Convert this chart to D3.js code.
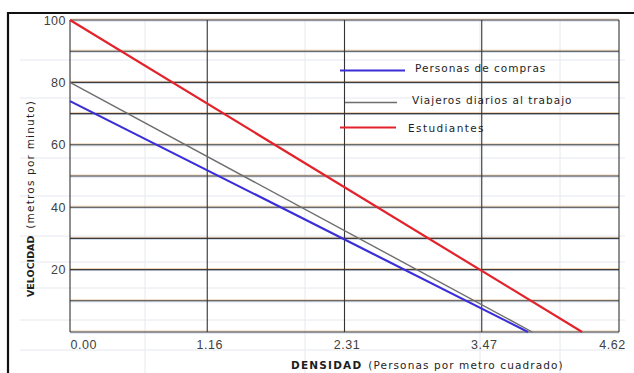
<!DOCTYPE html>
<html lang="es">
<head>
<meta charset="UTF-8">
<title>Velocidad vs densidad</title>
<script src="https://d3js.org/d3.v7.min.js"></script>
<style>
html, body {
  margin: 0;
  padding: 0;
  background-color: white;
}
svg {
  display: block;
  font-family: 'DejaVu Sans', sans-serif;
}
.tick-label {
  font-size: 12.5px;
  fill: #404040;
  letter-spacing: 0.5px;
}
.legend-text {
  font-size: 10.5px;
  fill: #1e1e1e;
}
.axis-title {
  font-size: 10.5px;
  fill: #1e1e1e;
}
</style>
</head>
<body>
<div id="chart"></div>
<script>

// --------------------------------------
// Data
// --------------------------------------

const seriesNames = ["Personas de compras", "Viajeros diarios al trabajo", "Estudiantes"];
const seriesColors = ["#3a2fd6", "#6e6e6e", "#e3232b"];
// each line is straight: [densidad, velocidad] at both ends
const compras = [[0, 74], [3.855, 0]];
const viajeros = [[0, 80], [3.89, 0]];
const estudiantes = [[0, 100], [4.31, 0]];
const seriesData = [compras, viajeros, estudiantes];

const xTicks = [0, 1.155, 2.31, 3.465, 4.62];
const xTickLabels = ["0.00", "1.16", "2.31", "3.47", "4.62"];
const yGrid = [0, 10, 20, 30, 40, 50, 60, 70, 80, 90, 100];
const yTicks = [20, 40, 60, 80, 100];

// --------------------------------------
// Size and margin
// --------------------------------------

let totalWidth = 634;
let totalHeight = 373;
let margin = {top: 20, right: 15, bottom: 41, left: 70};

let svg = d3.select("#chart")
  .append("svg")
  .attr("width", totalWidth)
  .attr("height", totalHeight);

// --------------------------------------
// Scales
// --------------------------------------

let x = d3.scaleLinear()
  .domain([0, 4.62])
  .range([margin.left, totalWidth - margin.right]);

let y = d3.scaleLinear()
  .domain([0, 100])
  .range([totalHeight - margin.bottom, margin.top]);

// --------------------------------------
// Scanned page look: faint ghost lines
// --------------------------------------

let ghost = svg.append("g").attr("stroke", "#e6e8ef").attr("stroke-width", 1);
[145, 305, 480, 560].forEach(gx => {
  ghost.append("line").attr("x1", gx).attr("x2", gx).attr("y1", 20).attr("y2", 373);
});
[60, 98, 158, 196, 236, 262, 288, 320, 350].forEach(gy => {
  ghost.append("line").attr("x1", 20).attr("x2", 625).attr("y1", gy).attr("y2", gy);
});

// frame of the scan
svg.append("line")
  .attr("x1", 8).attr("x2", 634).attr("y1", 13).attr("y2", 13)
  .attr("stroke", "#111").attr("stroke-width", 2.2);
svg.append("line")
  .attr("x1", 8).attr("x2", 8).attr("y1", 12).attr("y2", 373)
  .attr("stroke", "#111").attr("stroke-width", 2.2);

// --------------------------------------
// Grid
// --------------------------------------

let grid = svg.append("g");

// horizontal lines carry a faint orange / blue fringe like the scan
grid.selectAll(".h-orange")
  .data(yGrid)
  .join("line")
  .attr("x1", x(0)).attr("x2", x(4.62))
  .attr("y1", d => y(d) - 1).attr("y2", d => y(d) - 1)
  .attr("stroke", "#e8c49c").attr("stroke-width", 0.8);

grid.selectAll(".h-blue")
  .data(yGrid)
  .join("line")
  .attr("x1", x(0)).attr("x2", x(4.62))
  .attr("y1", d => y(d) + 1).attr("y2", d => y(d) + 1)
  .attr("stroke", "#bccbe6").attr("stroke-width", 0.8);

grid.selectAll(".h-line")
  .data(yGrid)
  .join("line")
  .attr("x1", x(0)).attr("x2", x(4.62))
  .attr("y1", d => y(d)).attr("y2", d => y(d))
  .attr("stroke", "#3e3c3a").attr("stroke-width", 1.1);

grid.selectAll(".v-line")
  .data(xTicks)
  .join("line")
  .attr("x1", d => x(d)).attr("x2", d => x(d))
  .attr("y1", y(100)).attr("y2", y(0))
  .attr("stroke", "#333").attr("stroke-width", 1.1);

// --------------------------------------
// Axes labels
// --------------------------------------

let xAxis = svg.append("g")
  .attr("transform", `translate(0, ${y(0)})`)
  .call(d3.axisBottom(x)
    .tickValues(xTicks)
    .tickSize(0)
    .tickPadding(8)
    .tickFormat((d, i) => xTickLabels[i]));

xAxis.select(".domain").remove();
xAxis.selectAll("text")
  .attr("class", "tick-label")
  .attr("font-family", null)
  .attr("font-size", null)
  .attr("fill", null)
  .attr("text-anchor", (d, i) => i === 0 ? "start" : "middle")
  .attr("dx", (d, i) => i === 4 ? -7 : (i === 0 ? 0 : 2));

let yAxis = svg.append("g")
  .attr("transform", `translate(${x(0) - 3}, 0)`)
  .call(d3.axisLeft(y)
    .tickValues(yTicks)
    .tickSize(0)
    .tickPadding(1)
    .tickFormat(d3.format("d")));

yAxis.select(".domain").remove();
yAxis.selectAll("text")
  .attr("class", "tick-label")
  .attr("font-family", null)
  .attr("font-size", null)
  .attr("fill", null)
  .attr("letter-spacing", "-0.5px");

let xTitle = svg.append("text")
  .attr("class", "axis-title")
  .attr("x", 291)
  .attr("y", 369);
xTitle.append("tspan")
  .attr("font-weight", "bold")
  .attr("letter-spacing", "1.2px")
  .text("DENSIDAD");
xTitle.append("tspan")
  .attr("dx", 6)
  .attr("letter-spacing", "1.1px")
  .text("(Personas  por  metro  cuadrado)");

let yTitle = svg.append("text")
  .attr("class", "axis-title")
  .attr("transform", "translate(34, 297) rotate(-90)");
yTitle.append("tspan")
  .attr("font-weight", "bold")
  .attr("font-size", "9.5px")
  .text("VELOCIDAD");
yTitle.append("tspan")
  .attr("dx", 7)
  .attr("letter-spacing", "1.2px")
  .text("(metros  por  minuto)");

// --------------------------------------
// Lines
// --------------------------------------

let line = d3.line()
  .x(d => x(d[0]))
  .y(d => y(d[1]));

svg.selectAll(".serie")
  .data(seriesData)
  .join("path")
  .attr("class", "serie")
  .attr("d", line)
  .attr("fill", "none")
  .attr("stroke", (d, i) => seriesColors[i])
  .attr("stroke-width", (d, i) => i === 1 ? 1.4 : 2.2);

// --------------------------------------
// Legend
// --------------------------------------

let legendRows = [
  {x1: 340, x2: 405, ly: 70.5, tx: 415, ty: 72, ls: 1.0},
  {x1: 345, x2: 397, ly: 102.5, tx: 412, ty: 104, ls: 1.0},
  {x1: 340, x2: 396, ly: 127.5, tx: 408, ty: 132, ls: 1.4}
];

let legend = svg.append("g");

legend.selectAll("line")
  .data(seriesNames)
  .join("line")
  .attr("x1", (d, i) => legendRows[i].x1)
  .attr("x2", (d, i) => legendRows[i].x2)
  .attr("y1", (d, i) => legendRows[i].ly)
  .attr("y2", (d, i) => legendRows[i].ly)
  .attr("stroke", (d, i) => seriesColors[i])
  .attr("stroke-width", (d, i) => i === 1 ? 1.4 : 2.2);

legend.selectAll("text")
  .data(seriesNames)
  .join("text")
  .attr("class", "legend-text")
  .attr("x", (d, i) => legendRows[i].tx)
  .attr("y", (d, i) => legendRows[i].ty)
  .attr("letter-spacing", (d, i) => legendRows[i].ls + "px")
  .text(d => d);

</script>
</body>
</html>
